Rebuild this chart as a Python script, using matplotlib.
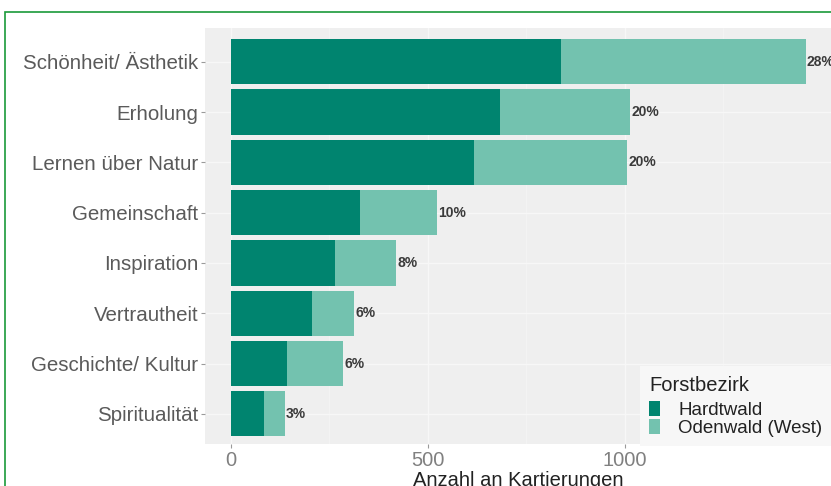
import matplotlib
matplotlib.use("Agg")
import matplotlib.pyplot as plt
from matplotlib.patches import Rectangle, Patch

categories = ["Schönheit/ Ästhetik", "Erholung", "Lernen über Natur", "Gemeinschaft",
              "Inspiration", "Vertrautheit", "Geschichte/ Kultur", "Spiritualität"]
hardtwald = [838, 683, 617, 327, 264, 206, 142, 84]
odenwald = [621, 330, 388, 196, 155, 106, 142, 53]
pct_labels = ["28%", "20%", "20%", "10%", "8%", "6%", "6%", "3%"]
x_ticks = [0, 500, 1000]
series_names = ["Hardtwald", "Odenwald (West)"]

c_hard = "#00846F"
c_oden = "#73C2AF"

plt.rcParams['font.family'] = ['Liberation Sans', 'DejaVu Sans']

fig = plt.figure(figsize=(8.31, 4.86), dpi=100)
fig.patch.set_facecolor("white")

W, H = 831, 486
left, right, top, bottom = 205, 831, 28, 444
ax = fig.add_axes([left / W, 1 - bottom / H, (right - left) / W, (bottom - top) / H])
ax.set_facecolor("#EFEFEF")

n = len(categories)
ypos = [n - i for i in range(n)]
totals = [h + o for h, o in zip(hardtwald, odenwald)]

ax.set_xlim(-66, 1523)
ax.set_ylim(0.4, n + 0.67)

# grid
for gx in [250, 750, 1250]:
    ax.axvline(gx, color="#F4F4F4", lw=0.6, zorder=0)
for gx in x_ticks:
    ax.axvline(gx, color="#F7F7F7", lw=1.0, zorder=0)
for gy in ypos:
    ax.axhline(gy, color="#F7F7F7", lw=1.0, zorder=0)

ax.barh(ypos, hardtwald, height=0.9, color=c_hard, zorder=2)
ax.barh(ypos, odenwald, left=hardtwald, height=0.9, color=c_oden, zorder=2)

for y, t, lab in zip(ypos, totals, pct_labels):
    ax.text(t + 3, y, lab, ha="left", va="center", fontsize=10, fontweight="bold",
            color="#3A3A3A", zorder=3, clip_on=False)

ax.set_yticks(ypos)
ax.set_yticklabels(categories, fontsize=14.8, color="#5A5A5A")
ax.set_xticks(x_ticks)
ax.set_xticklabels([str(v) for v in x_ticks], fontsize=14.5, color="#808080")
ax.tick_params(axis="both", length=3, width=0.8, color="#9A9A9A", pad=2)
ax.set_xlabel("Anzahl an Kartierungen", fontsize=14.5, color="#222222", labelpad=1)
for s in ax.spines.values():
    s.set_visible(False)

handles = [Patch(facecolor=c_hard, edgecolor="none"), Patch(facecolor=c_oden, edgecolor="none")]
leg = ax.legend(handles, series_names, title="Forstbezirk", loc="lower left",
                bbox_to_anchor=((640 - left) / (right - left), -0.005),
                frameon=True, fancybox=False, framealpha=1.0,
                fontsize=13.5, title_fontsize=14.5, handlelength=0.55, handleheight=0.85,
                labelspacing=0.0, handletextpad=1.0, borderpad=0.5, borderaxespad=0)
leg.get_frame().set_facecolor("#F7F7F7")
leg.get_frame().set_edgecolor("none")
leg._legend_box.align = "left"
leg._legend_box.sep = 4.5
for t in leg.get_texts():
    t.set_color("#222222")
leg.get_title().set_color("#222222")

# green frame (left and top edges visible)
fig.patches.append(Rectangle((5 / W, -0.1), 1.2, 1 - 12 / H + 0.1, transform=fig.transFigure,
                             fill=False, edgecolor="#1A9A3A", lw=1.2, zorder=10))

fig.savefig("out.png", dpi=100)
